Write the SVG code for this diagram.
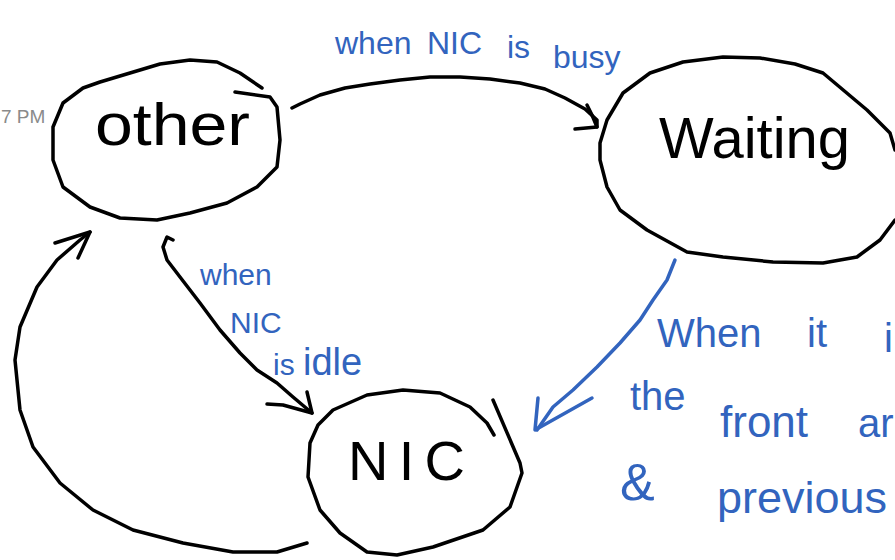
<svg xmlns="http://www.w3.org/2000/svg" width="895" height="560" viewBox="0 0 895 560">
<style>
.ink{fill:none;stroke:#000;stroke-width:3.5;stroke-linecap:round;stroke-linejoin:round}
.bink{fill:none;stroke:#3264be;stroke-width:3.5;stroke-linecap:round;stroke-linejoin:round}
.lbl{font-family:"Liberation Sans",Arial,sans-serif;fill:#000}
.blue{font-family:"Liberation Sans",Arial,sans-serif;fill:#3264be}
</style>
<rect width="895" height="560" fill="#fff"/>
<text x="1" y="123" font-family="Liberation Sans, Arial, sans-serif" font-size="19" fill="#8a8a8a">7 PM</text>
<g id="node-other">
<path class="ink" d="M262,88 L240,73 L217,62 L190,60 L160,64 L130,73 L100,82 L83,88 L63,103 L53,127 L53,160 L63,187 L90,207 L120,218 L157,220 L190,213 L227,203 L257,187 L277,167 L280,140 L277,107 L270,97 L235,92"/>
<text class="lbl" x="95" y="145" font-size="60" textLength="155" lengthAdjust="spacingAndGlyphs">other</text>
</g>
<g id="node-waiting">
<path class="ink" d="M600,160 L600,143 L607,120 L623,93 L650,73 L683,62 L723,57 L760,58 L795,64 L823,73 L867,110 L890,133 L895,150 M895,220 L880,240 L857,257 L823,263 L773,262 L723,257 L687,252 L647,230 L620,210 L607,187 L600,160"/>
<text class="lbl" x="659" y="158" font-size="57" textLength="191" lengthAdjust="spacingAndGlyphs">Waiting</text>
</g>
<g id="node-nic">
<path class="ink" d="M494,435 L487,423 L470,407 L440,393 L403,390 L367,395 L333,410 L318,425 L310,443 L308,477 L320,510 L340,533 L367,552 L397,555 L433,547 L483,530 L510,507 L522,473 L520,463 L493,400"/>
<text class="lbl" x="348" y="480" font-size="56" textLength="117" lengthAdjust="spacing">NIC</text>
</g>
<g id="connectors">
<path class="ink" d="M292,108 L300,104 L320,95 L345,88 L370,84 L400,80 L430,77 L460,77 L490,79 L520,83 L545,89 L565,98 L585,109 L597,120 L597,127"/>
<path class="ink" d="M587,105 L592,115 L597,127 L575,129"/>
<path class="ink" d="M173,240 L167,237 L163,247 L167,260 L180,277 L200,303 L220,330 L240,353 L257,370 L277,383 L293,397 L312,413"/>
<path class="ink" d="M307,392 L312,413 L283,405 L267,404"/>
<path class="bink" d="M675,260 L667,280 L653,300 L640,320 L620,343 L597,367 L573,390 L553,407 L537,430"/>
<path class="bink" d="M538,398 L535,430 L592,398"/>
<path class="ink" d="M307,543 L277,552 L233,552 L183,543 L133,530 L93,510 L60,483 L33,447 L20,410 L15,360 L20,327 L37,287 L57,260 L80,240 L90,232"/>
<path class="ink" d="M55,243 L90,232 L78,258"/>
</g>
<g id="label-busy">
<text class="blue" font-size="32"><tspan x="335" y="54">when</tspan><tspan x="427" y="54">NIC</tspan><tspan x="507" y="58">is</tspan><tspan x="553" y="68">busy</tspan></text>
</g>
<g id="label-idle">
<text class="blue" font-size="30"><tspan x="200" y="285">when</tspan><tspan x="230" y="333">NIC</tspan><tspan x="273" y="375">is</tspan><tspan x="303" y="375" font-size="38">idle</tspan></text>
</g>
<g id="label-front">
<text class="blue" font-size="40"><tspan x="657" y="347">When</tspan><tspan x="807" y="347">it</tspan><tspan x="884" y="352">i</tspan></text>
<text class="blue" font-size="40"><tspan x="630" y="410">the</tspan><tspan x="720" y="437" font-size="44">front</tspan><tspan x="858" y="437">ar</tspan></text>
<text class="blue" font-size="40"><tspan x="620" y="500" font-size="52">&amp;</tspan><tspan x="717" y="513" font-size="45">previous</tspan></text>
</g>
</svg>
